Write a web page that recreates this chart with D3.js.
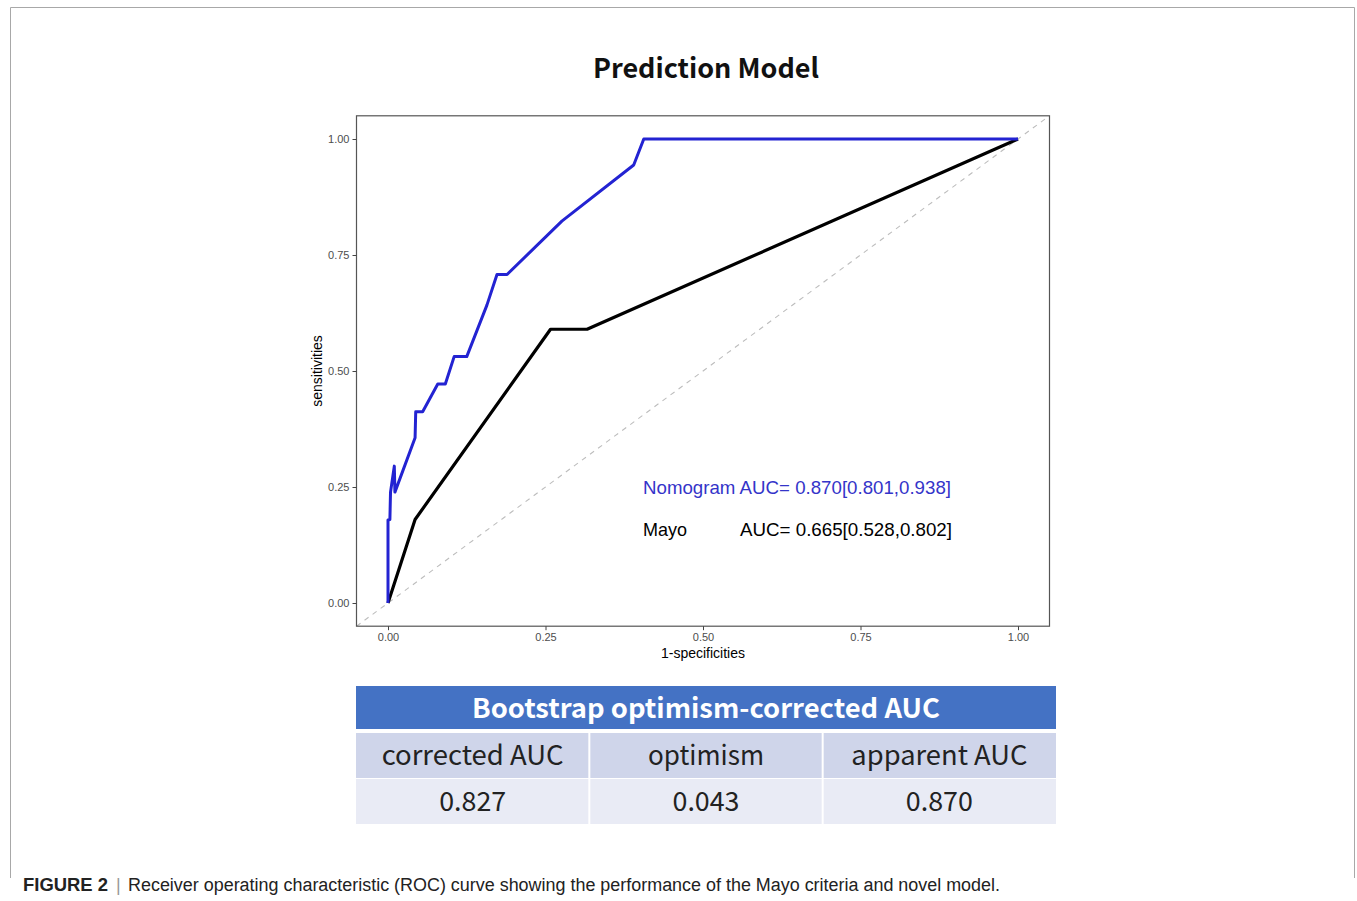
<!DOCTYPE html>
<html>
<head>
<meta charset="utf-8">
<script src="https://cdn.jsdelivr.net/npm/d3@7"></script>
<style>
  html, body { margin: 0; padding: 0; background: #fff; }
  svg { display: block; }
</style>
</head>
<body>
<svg id="chart" width="1357" height="901"></svg>
<script>
// ---------------- DATA ----------------
const titleText = "Prediction Model";
const xTicks = [0, 0.25, 0.5, 0.75, 1];
const yTicks = [0, 0.25, 0.5, 0.75, 1];
const xTickLabels = ["0.00", "0.25", "0.50", "0.75", "1.00"];
const yTickLabels = ["0.00", "0.25", "0.50", "0.75", "1.00"];

// Nomogram ROC curve (1-specificity, sensitivity)
const nomogramFPR = [0, 0.000, 0.003, 0.004, 0.010, 0.011, 0.043, 0.044, 0.055, 0.079, 0.091, 0.105, 0.125, 0.157, 0.173, 0.189, 0.276, 0.390, 0.406, 1.0];
const nomogramTPR = [0, 0.179, 0.180, 0.239, 0.295, 0.239, 0.356, 0.412, 0.412, 0.472, 0.472, 0.531, 0.531, 0.642, 0.708, 0.708, 0.823, 0.944, 1.0, 1.0];

// Mayo ROC curve
const mayoFPR = [0, 0.043, 0.258, 0.316, 1.0];
const mayoTPR = [0, 0.180, 0.590, 0.590, 1.0];

const legendLabels = ["Nomogram AUC= 0.870[0.801,0.938]", "Mayo", "AUC= 0.665[0.528,0.802]"];

const tableTitle = "Bootstrap optimism-corrected AUC";
const tableHeaders = ["corrected AUC", "optimism", "apparent AUC"];
const tableValues = ["0.827", "0.043", "0.870"];

const captionBold = "FIGURE 2";
const captionText = "Receiver operating characteristic (ROC) curve showing the performance of the Mayo criteria and novel model.";

// ---------------- DRAW ----------------
const svg = d3.select("#chart");

// outer frame
svg.append("path")
  .attr("d", "M10.5,878 L10.5,7.5 L1354.5,7.5 L1354.5,878")
  .attr("fill", "none").attr("stroke", "#a8a8a8").attr("stroke-width", 1);

// title
svg.append("text")
  .attr("x", 706).attr("y", 78)
  .attr("text-anchor", "middle")
  .attr("font-family", "'Noto Sans CJK SC', 'Noto Sans', sans-serif")
  .attr("font-weight", "bold").attr("font-size", 27)
  .attr("fill", "#111")
  .text(titleText);

const x = d3.scaleLinear().domain([0, 1]).range([388, 1018]);
const y = d3.scaleLinear().domain([0, 1]).range([603, 139]);
const x0 = x(-0.05), x1 = x(1.05), y0 = y(-0.05), y1 = y(1.05);

svg.append("clipPath").attr("id", "clip")
  .append("rect").attr("x", x0).attr("y", y1).attr("width", x1 - x0).attr("height", y0 - y1);

// diagonal reference line
svg.append("line")
  .attr("clip-path", "url(#clip)")
  .attr("x1", x(-0.05)).attr("y1", y(-0.05))
  .attr("x2", x(1.05)).attr("y2", y(1.05))
  .attr("stroke", "#bdbdbd").attr("stroke-width", 1.1)
  .attr("stroke-dasharray", "5,5");

const line = d3.line().x(d => x(d[0])).y(d => y(d[1]));
const mayo = mayoFPR.map((v, i) => [v, mayoTPR[i]]);
const nomo = nomogramFPR.map((v, i) => [v, nomogramTPR[i]]);

svg.append("path").datum(mayo)
  .attr("clip-path", "url(#clip)")
  .attr("d", line).attr("fill", "none")
  .attr("stroke", "#000").attr("stroke-width", 3.2).attr("stroke-linejoin", "round");

svg.append("path").datum(nomo)
  .attr("clip-path", "url(#clip)")
  .attr("d", line).attr("fill", "none")
  .attr("stroke", "#2323d2").attr("stroke-width", 3).attr("stroke-linejoin", "round");

// panel border
svg.append("rect")
  .attr("x", x0).attr("y", y1).attr("width", x1 - x0).attr("height", y0 - y1)
  .attr("fill", "none").attr("stroke", "#555").attr("stroke-width", 1.2);

// axes
const xAxis = d3.axisBottom(x).tickValues(xTicks).tickSize(4).tickPadding(3)
  .tickFormat((d, i) => xTickLabels[i]);
const yAxis = d3.axisLeft(y).tickValues(yTicks).tickSize(4).tickPadding(3)
  .tickFormat((d, i) => yTickLabels[i]);

const gx = svg.append("g").attr("transform", `translate(0,${y0})`).call(xAxis);
const gy = svg.append("g").attr("transform", `translate(${x0},0)`).call(yAxis);
[gx, gy].forEach(g => {
  g.select(".domain").remove();
  g.selectAll(".tick line").attr("stroke", "#444");
  g.selectAll(".tick text").attr("fill", "#4d4d4d")
    .attr("font-family", "'Liberation Sans', Arial, sans-serif").attr("font-size", 11);
});

svg.append("text")
  .attr("x", x(0.5)).attr("y", 658)
  .attr("text-anchor", "middle")
  .attr("font-family", "'Liberation Sans', Arial, sans-serif").attr("font-size", 14)
  .attr("fill", "#000").text("1-specificities");

svg.append("text")
  .attr("transform", `translate(322,${y(0.5)}) rotate(-90)`)
  .attr("text-anchor", "middle")
  .attr("font-family", "'Liberation Sans', Arial, sans-serif").attr("font-size", 14)
  .attr("fill", "#000").text("sensitivities");

// legend / annotations
const legFont = "'Liberation Sans', Arial, sans-serif";
svg.append("text")
  .attr("x", 643).attr("y", 494)
  .attr("font-family", legFont).attr("font-size", 18.5)
  .attr("textLength", 308).attr("lengthAdjust", "spacingAndGlyphs")
  .attr("fill", "#3434c9").text(legendLabels[0]);
svg.append("text")
  .attr("x", 643).attr("y", 536)
  .attr("font-family", legFont).attr("font-size", 18.5)
  .attr("textLength", 44).attr("lengthAdjust", "spacingAndGlyphs")
  .attr("fill", "#000").text(legendLabels[1]);
svg.append("text")
  .attr("x", 740).attr("y", 536)
  .attr("font-family", legFont).attr("font-size", 18.5)
  .attr("textLength", 212).attr("lengthAdjust", "spacingAndGlyphs")
  .attr("fill", "#000").text(legendLabels[2]);

// ---------------- TABLE ----------------
const tX = 356, tW = 700;
const col = d3.scaleBand().domain(d3.range(3)).range([tX, tX + tW]);
const tFont = "'Noto Sans CJK SC', 'Noto Sans', sans-serif";

svg.append("rect").attr("x", tX).attr("y", 686).attr("width", tW).attr("height", 43).attr("fill", "#4472c4");
svg.append("text")
  .attr("x", tX + tW / 2).attr("y", 718)
  .attr("text-anchor", "middle")
  .attr("font-family", tFont).attr("font-size", 27).attr("font-weight", "bold")
  .attr("textLength", 468).attr("lengthAdjust", "spacingAndGlyphs")
  .attr("fill", "#fff").text(tableTitle);

const headerLens = [182, 116, 176];
const valueLens = [67, 67, 67];
const rows = [
  { y: 733, h: 45, fill: "#cfd5ea", texts: tableHeaders, lens: headerLens },
  { y: 779, h: 45, fill: "#e9ebf5", texts: tableValues, lens: valueLens }
];
rows.forEach(r => {
  svg.selectAll(null).data(r.texts).enter().append("rect")
    .attr("x", (d, i) => col(i) + (i > 0 ? 1 : 0))
    .attr("y", r.y)
    .attr("width", (d, i) => col.bandwidth() - (i > 0 ? 1 : 0) - (i < 2 ? 1 : 0))
    .attr("height", r.h)
    .attr("fill", r.fill);
  svg.selectAll(null).data(r.texts).enter().append("text")
    .attr("x", (d, i) => col(i) + col.bandwidth() / 2)
    .attr("y", r.y + 32)
    .attr("text-anchor", "middle")
    .attr("font-family", tFont).attr("font-size", 27)
    .attr("textLength", (d, i) => r.lens[i]).attr("lengthAdjust", "spacingAndGlyphs")
    .attr("fill", "#222").text(d => d);
});

// ---------------- CAPTION ----------------
const capFont = "'Liberation Sans Narrow', 'Liberation Sans', Arial, sans-serif";
svg.append("text")
  .attr("x", 23).attr("y", 891)
  .attr("font-family", capFont).attr("font-weight", "bold")
  .attr("font-size", 18).attr("fill", "#222")
  .attr("textLength", 85).attr("lengthAdjust", "spacingAndGlyphs")
  .text(captionBold);
svg.append("text")
  .attr("x", 116).attr("y", 891)
  .attr("font-family", capFont).attr("font-size", 18).attr("fill", "#999")
  .text("|");
svg.append("text")
  .attr("x", 128).attr("y", 891)
  .attr("font-family", capFont).attr("font-size", 18).attr("fill", "#222")
  .attr("textLength", 872).attr("lengthAdjust", "spacingAndGlyphs")
  .text(captionText);
</script>
</body>
</html>
